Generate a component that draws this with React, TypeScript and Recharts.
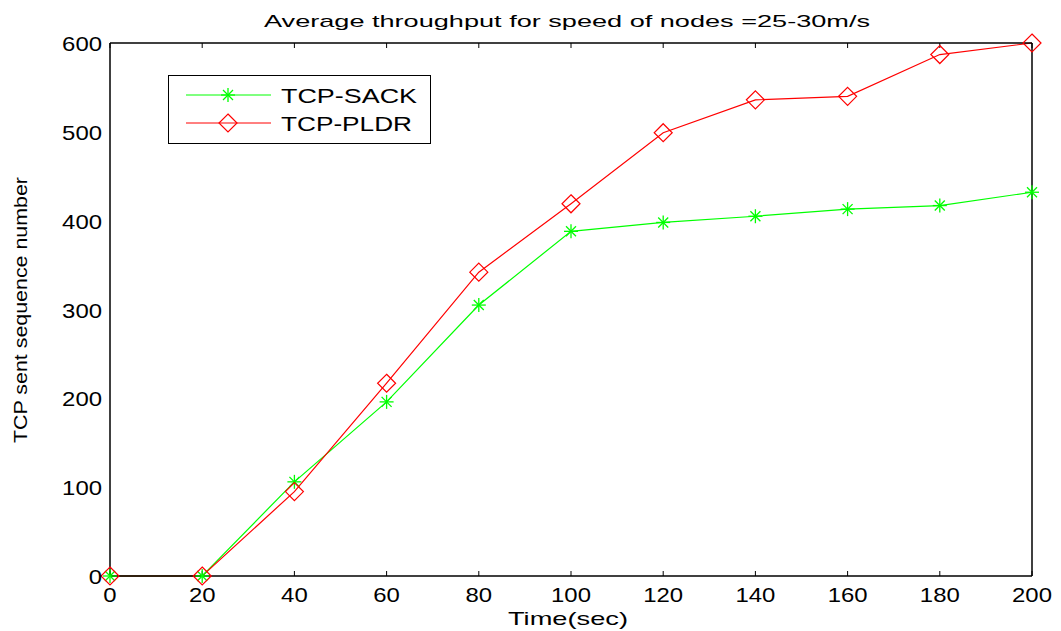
import React from "react";
import { LineChart, Line, XAxis, YAxis } from "recharts";

const timeSec = [0, 20, 40, 60, 80, 100, 120, 140, 160, 180, 200];
const tcpSack = [0, 0, 106, 196, 305, 388, 398, 405, 413, 417, 432];
const tcpPldr = [0, 0, 95, 217, 342, 419, 499, 536, 540, 587, 600];
const xTicks = [0, 20, 40, 60, 80, 100, 120, 140, 160, 180, 200];
const yTicks = [0, 100, 200, 300, 400, 500, 600];

const data = timeSec.map((t, i) => ({ t, sack: tcpSack[i], pldr: tcpPldr[i] }));

const FONT = "'Liberation Sans', Arial, Helvetica, sans-serif";
const GREEN = "#00ff00";
const RED = "#ff0000";

const Star = (props: any) => {
  const { cx, cy } = props;
  if (cx == null || cy == null) return <g key={props.index} />;
  const r = 7;
  const d = 5;
  return (
    <g key={`s${props.index}`} stroke={GREEN} strokeWidth={1.3}>
      <line x1={cx - r} y1={cy} x2={cx + r} y2={cy} />
      <line x1={cx} y1={cy - r} x2={cx} y2={cy + r} />
      <line x1={cx - d} y1={cy - d} x2={cx + d} y2={cy + d} />
      <line x1={cx - d} y1={cy + d} x2={cx + d} y2={cy - d} />
    </g>
  );
};

const Diamond = (props: any) => {
  const { cx, cy } = props;
  if (cx == null || cy == null) return <g key={props.index} />;
  const r = 9;
  return (
    <polygon
      key={`d${props.index}`}
      points={`${cx},${cy - r} ${cx + r},${cy} ${cx},${cy + r} ${cx - r},${cy}`}
      fill="none"
      stroke={RED}
      strokeWidth={1.2}
    />
  );
};

const XTick = (props: any) => {
  const { x, y, payload } = props;
  const s = String(payload.value);
  return (
    <text x={x} y={y + 26} textAnchor="middle" fontSize={21} fontFamily={FONT} fill="#000"
      textLength={s.length * 13.3} lengthAdjust="spacingAndGlyphs">
      {s}
    </text>
  );
};

const YTick = (props: any) => {
  const { x, y, payload } = props;
  const s = String(payload.value);
  return (
    <text x={x - 8} y={y + 8} textAnchor="end" fontSize={21} fontFamily={FONT} fill="#000"
      textLength={s.length * 13.3} lengthAdjust="spacingAndGlyphs">
      {s}
    </text>
  );
};

const LegendBox = () => (
  <svg width={264} height={70} style={{ display: "block" }}>
    <rect x={0.5} y={0.5} width={262} height={68} fill="#fff" stroke="#000" strokeWidth={1} />
    <line x1={18} y1={20} x2={103} y2={20} stroke={GREEN} strokeWidth={1} />
    <Star cx={60} cy={20} index={0} />
    <text x={113} y={28} fontSize={21} fontFamily={FONT} fill="#000" textLength={136} lengthAdjust="spacingAndGlyphs">TCP-SACK</text>
    <line x1={18} y1={48} x2={103} y2={48} stroke={RED} strokeWidth={1} />
    <Diamond cx={60} cy={48} index={1} />
    <text x={113} y={56} fontSize={21} fontFamily={FONT} fill="#000" textLength={131} lengthAdjust="spacingAndGlyphs">TCP-PLDR</text>
  </svg>
);

export default function App() {
  return (
    <div style={{ position: "absolute", left: 0, top: 0, width: 1061, height: 631, background: "#fff" }}>
      <svg width={1061} height={631} style={{ position: "absolute", left: 0, top: 0 }}>
        <text x={567} y={27} textAnchor="middle" fontSize={17} fontFamily={FONT} fill="#000"
          textLength={606} lengthAdjust="spacingAndGlyphs">
          Average throughput for speed of nodes =25-30m/s
        </text>
        <text x={568} y={625} textAnchor="middle" fontSize={19} fontFamily={FONT} fill="#000"
          textLength={120} lengthAdjust="spacingAndGlyphs">
          Time(sec)
        </text>
        <text x={0} y={0} transform="translate(27,310) rotate(-90)" textAnchor="middle" fontSize={18}
          fontFamily={FONT} fill="#000" textLength={266} lengthAdjust="spacingAndGlyphs">
          TCP sent sequence number
        </text>
      </svg>
      <div style={{ position: "absolute", left: 0, top: 0 }}>
        <LineChart width={1061} height={631} data={data} margin={{ top: 43, right: 29, bottom: 0, left: 0 }}>
          <XAxis xAxisId="b" dataKey="t" type="number" domain={[0, 200]} ticks={xTicks} height={55}
            axisLine={{ stroke: "#000", strokeWidth: 1.5 }} tickLine={false} tickSize={0} tickMargin={0}
            tick={<XTick />} interval={0} />
          <XAxis xAxisId="bm" dataKey="t" type="number" domain={[0, 200]} ticks={xTicks} mirror
            axisLine={false} tick={() => null} tickLine={{ stroke: "#000" }} tickSize={5} height={1} interval={0} />
          <XAxis xAxisId="t" dataKey="t" type="number" domain={[0, 200]} ticks={xTicks} orientation="top" mirror
            axisLine={{ stroke: "#000", strokeWidth: 1.5 }} tick={() => null} tickLine={{ stroke: "#000" }} tickSize={5} height={1} interval={0} />
          <YAxis yAxisId="l" type="number" domain={[0, 600]} ticks={yTicks} width={110}
            axisLine={{ stroke: "#000", strokeWidth: 1.5 }} tickLine={false} tickSize={0} tickMargin={0}
            tick={<YTick />} interval={0} />
          <YAxis yAxisId="lm" type="number" domain={[0, 600]} ticks={yTicks} mirror width={1}
            axisLine={false} tick={() => null} tickLine={{ stroke: "#000" }} tickSize={5} interval={0} />
          <YAxis yAxisId="r" type="number" domain={[0, 600]} ticks={yTicks} orientation="right" mirror width={1}
            axisLine={{ stroke: "#000", strokeWidth: 1.5 }} tick={() => null} tickLine={{ stroke: "#000" }} tickSize={5} interval={0} />
          <Line xAxisId="b" yAxisId="l" dataKey="sack" name="TCP-SACK" stroke={GREEN} strokeWidth={1.2}
            dot={(p: any) => <Star {...p} key={`sk${p.index}`} />} activeDot={false} isAnimationActive={false} />
          <Line xAxisId="b" yAxisId="l" dataKey="pldr" name="TCP-PLDR" stroke={RED} strokeWidth={1.2}
            dot={(p: any) => <Diamond {...p} key={`pk${p.index}`} />} activeDot={false} isAnimationActive={false} />
        </LineChart>
      </div>
      <div style={{ position: "absolute", left: 168, top: 75 }}>
        <LegendBox />
      </div>
    </div>
  );
}
